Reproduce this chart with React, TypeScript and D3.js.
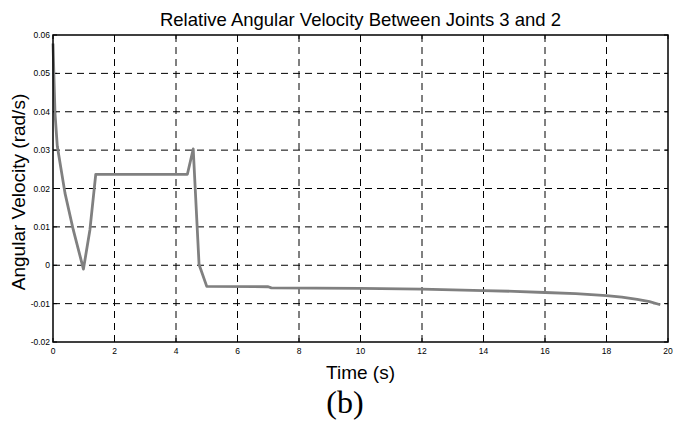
import React from "react";
import * as d3 from "d3";

const timeValues = [0, 0.065, 0.14, 0.39, 0.66, 0.99, 1.2, 1.39, 4.37, 4.56, 4.75, 5.0, 7.0, 7.1, 10, 12, 14, 15, 16, 17, 18, 18.5, 19, 19.4, 19.75];
const velocityValues = [0.0578, 0.0396, 0.031, 0.0188, 0.0092, -0.001, 0.0092, 0.0237, 0.0237, 0.0303, 0.0002, -0.0055, -0.0056, -0.0059, -0.006, -0.0062, -0.0066, -0.0068, -0.0071, -0.0074, -0.0079, -0.0083, -0.0089, -0.0095, -0.0103];
const xTicks = [0, 2, 4, 6, 8, 10, 12, 14, 16, 18, 20];
const yTicks = [-0.02, -0.01, 0, 0.01, 0.02, 0.03, 0.04, 0.05, 0.06];
const yTickLabels = ["-0.02", "-0.01", "0", "0.01", "0.02", "0.03", "0.04", "0.05", "0.06"];

const W = 684, H = 421;
const L = 53, R = 668, T = 35, B = 342;

export default function App() {
  const x = d3.scaleLinear().domain([0, 20]).range([L, R]);
  const y = d3.scaleLinear().domain([-0.02, 0.06]).range([B, T]);
  const data = timeValues.map((t, i) => [t, velocityValues[i]] as [number, number]);
  const line = d3.line<[number, number]>().x(d => x(d[0])).y(d => y(d[1]));
  const font = "'Liberation Sans', Arial, sans-serif";
  return (
    <svg width={W} height={H} style={{ position: "absolute", left: 0, top: 0, background: "#fff" }}>
      <rect x={0} y={0} width={W} height={H} fill="#fff" />
      {xTicks.slice(1, -1).map(t => (
        <line key={"gx" + t} x1={x(t)} x2={x(t)} y1={T} y2={B} stroke="#000" strokeWidth={1} strokeDasharray="7,5" />
      ))}
      {yTicks.slice(1, -1).map(v => (
        <line key={"gy" + v} x1={L} x2={R} y1={y(v)} y2={y(v)} stroke="#000" strokeWidth={1} strokeDasharray="7,5" />
      ))}
      {xTicks.map(t => (
        <g key={"tx" + t}>
          <line x1={x(t)} x2={x(t)} y1={B} y2={B - 4} stroke="#000" />
          <line x1={x(t)} x2={x(t)} y1={T} y2={T + 4} stroke="#000" />
          <text x={x(t)} y={B + 12} fontSize={8.5} fontFamily={font} textAnchor="middle">{t}</text>
        </g>
      ))}
      {yTicks.map((v, i) => (
        <g key={"ty" + v}>
          <line x1={L} x2={L + 4} y1={y(v)} y2={y(v)} stroke="#000" />
          <line x1={R} x2={R - 4} y1={y(v)} y2={y(v)} stroke="#000" />
          <text x={L - 3} y={y(v) + 3} fontSize={8.5} fontFamily={font} textAnchor="end">{yTickLabels[i]}</text>
        </g>
      ))}
      <path d={line(data) || ""} fill="none" stroke="#808080" strokeWidth={2.8} strokeLinejoin="round" />
      <rect x={L} y={T} width={R - L} height={B - T} fill="none" stroke="#000" strokeWidth={1.5} />
      <text x={(L + R) / 2} y={26} fontSize={18.5} fontFamily={font} textAnchor="middle">Relative Angular Velocity Between Joints 3 and 2</text>
      <text x={(L + R) / 2} y={379} fontSize={19} fontFamily={font} textAnchor="middle">Time (s)</text>
      <text transform={`translate(25,${192}) rotate(-90)`} fontSize={19} fontFamily={font} textAnchor="middle">Angular Velocity (rad/s)</text>
      <text x={345} y={413} fontSize={32} fontFamily="'Liberation Serif', 'Times New Roman', serif" textAnchor="middle">(b)</text>
    </svg>
  );
}
